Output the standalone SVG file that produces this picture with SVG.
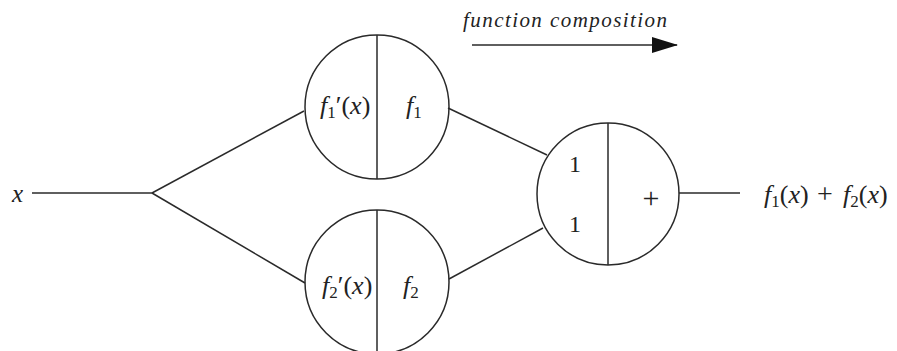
<svg xmlns="http://www.w3.org/2000/svg" width="897" height="351" viewBox="0 0 897 351">
<defs>
<style>
.ln{stroke:#2a2a2a;stroke-width:1.5;fill:none}
.t{font-family:"Liberation Serif","Times New Roman",serif;font-size:26px;fill:#222}
.i{font-style:italic}
.s{font-size:17px}
</style>
<marker id="ah" markerWidth="26" markerHeight="16" refX="25" refY="8" orient="auto" markerUnits="userSpaceOnUse">
<path d="M0,0 L26,8 L0,16 Z" fill="#111"/>
</marker>
</defs>
<rect width="897" height="351" fill="#fff"/>
<g id="title">
<text class="t i" x="463" y="27" style="font-size:21px" textLength="204" lengthAdjust="spacing">function composition</text>
<line class="ln" x1="472" y1="45" x2="677" y2="45" marker-end="url(#ah)"/>
</g>
<g id="connectors">
<line class="ln" x1="32" y1="193" x2="152" y2="193"/>
<line class="ln" x1="152" y1="193" x2="304" y2="111"/>
<line class="ln" x1="152" y1="193" x2="305" y2="283"/>
<line class="ln" x1="448" y1="108" x2="547" y2="155"/>
<line class="ln" x1="449" y1="279" x2="543" y2="228"/>
<line class="ln" x1="679" y1="193" x2="740" y2="193"/>
</g>
<g id="input">
<text class="t i" x="12" y="202" style="font-size:25px">x</text>
</g>
<g id="node-f1">
<circle class="ln" cx="377" cy="107" r="72"/>
<line class="ln" x1="377" y1="35" x2="377" y2="179"/>
<text class="t" x="320" y="114"><tspan class="i">f</tspan><tspan class="s" dy="4">1</tspan><tspan dy="-4">′(</tspan><tspan class="i">x</tspan>)</text>
<text class="t" x="406" y="114"><tspan class="i">f</tspan><tspan class="s" dy="4">1</tspan></text>
</g>
<g id="node-f2">
<circle class="ln" cx="377" cy="282" r="72"/>
<line class="ln" x1="377" y1="210" x2="377" y2="351"/>
<text class="t" x="322" y="294"><tspan class="i">f</tspan><tspan class="s" dy="4">2</tspan><tspan dy="-4">′(</tspan><tspan class="i">x</tspan>)</text>
<text class="t" x="403" y="294"><tspan class="i">f</tspan><tspan class="s" dy="4">2</tspan></text>
</g>
<g id="node-sum">
<circle class="ln" cx="608" cy="194" r="71"/>
<line class="ln" x1="608" y1="123" x2="608" y2="265"/>
<text class="t" x="575" y="172" text-anchor="middle" style="font-size:24px">1</text>
<text class="t" x="575" y="232" text-anchor="middle" style="font-size:24px">1</text>
<text class="t" x="651" y="208" text-anchor="middle" style="font-size:30px">+</text>
</g>
<g id="output">
<text class="t" y="203"><tspan class="i" x="764">f</tspan><tspan class="s" dy="4">1</tspan><tspan dy="-4">(</tspan><tspan class="i">x</tspan>)<tspan x="817" style="font-size:28px">+</tspan><tspan class="i" x="843">f</tspan><tspan class="s" dy="4">2</tspan><tspan dy="-4">(</tspan><tspan class="i">x</tspan>)</text>
</g>
</svg>
